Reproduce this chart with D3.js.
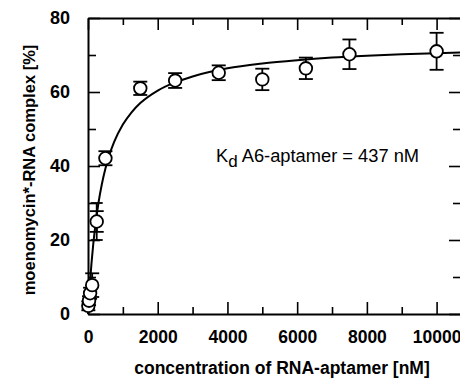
<!DOCTYPE html>
<html>
<head>
<meta charset="utf-8">
<script src="https://cdn.jsdelivr.net/npm/d3@7"></script>
<style>
  body { margin: 0; background: #fff; }
  text { font-family: "Liberation Sans", Arial, sans-serif; fill: #000; }
</style>
</head>
<body>
<div id="chart"></div>
<script>
// measured points (nM, %)
var conc   = [10, 30, 60, 120, 250, 500, 1500, 2500, 3750, 5000, 6250, 7500, 10000];
var bound  = [2.2, 3.6, 5.6, 7.8, 25, 42.1, 61, 63.1, 65.2, 63.4, 66.4, 70.2, 71];
var errors = [1.2, 1.2, 1.5, 3.2, 2.8, 1.9, 1.8, 2, 2, 2.9, 2.9, 4, 5];
// second (wider) error bars visible on some points
var errWide = [null, null, null, null, 5, null, null, null, null, null, null, null, null];

// fitted binding curve
var fitX = [0, 50, 100, 150, 200, 300, 400, 500, 600, 750, 1000, 1250, 1500, 2000, 2500, 3000, 4000, 5000, 6000, 7000, 8000, 9000, 10000, 10700];
var fitY = [0, 7.6, 13.7, 18.8, 23.1, 30, 35.2, 39.3, 42.6, 46.5, 51.2, 54.5, 57, 60.4, 62.6, 64.2, 66.4, 67.7, 68.6, 69.3, 69.8, 70.2, 70.5, 70.7];

var xTicks = [0, 2000, 4000, 6000, 8000, 10000];
var xMinor = [1000, 3000, 5000, 7000, 9000];
var yTicks = [0, 20, 40, 60, 80];
var yMinor = [10, 30, 50, 70];

var width = 460, height = 381;
var plotLeft = 88, plotTop = 18, plotRight = 461, plotBottom = 314;

var svg = d3.select('#chart').append('svg').attr('width', width).attr('height', height);

var x = d3.scaleLinear().domain([0, 10700]).range([plotLeft, plotRight]);
var y = d3.scaleLinear().domain([0, 80]).range([plotBottom, plotTop]);

function styleAxis(g) {
    g.select('.domain').attr('stroke-width', 2);
    g.selectAll('.tick line').attr('stroke-width', 1.6);
    g.selectAll('text').attr('font-size', 18).attr('font-weight', 'bold');
}
function styleMinor(g) {
    g.select('.domain').remove();
    g.selectAll('line').attr('stroke-width', 1.6);
}

// bottom axis, ticks inward
svg.append('g').attr('transform', 'translate(0,' + plotBottom + ')')
    .call(d3.axisBottom(x).tickValues(xTicks).tickSizeInner(-12).tickSizeOuter(0).tickPadding(17).tickFormat(d3.format('d')))
    .call(styleAxis)
    .call(function (g) { g.selectAll('text').attr('font-size', 17.5); });
svg.append('g').attr('transform', 'translate(0,' + plotBottom + ')')
    .call(d3.axisBottom(x).tickValues(xMinor).tickSize(-7).tickFormat(''))
    .call(styleMinor);

// top axis
svg.append('g').attr('transform', 'translate(0,' + plotTop + ')')
    .call(d3.axisTop(x).tickValues(xTicks).tickSizeInner(-12).tickSizeOuter(0).tickFormat(''))
    .call(styleAxis);
svg.append('g').attr('transform', 'translate(0,' + plotTop + ')')
    .call(d3.axisTop(x).tickValues(xMinor).tickSize(-7).tickFormat(''))
    .call(styleMinor);

// left axis
svg.append('g').attr('transform', 'translate(' + plotLeft + ',0)')
    .call(d3.axisLeft(y).tickValues(yTicks).tickSizeInner(-12).tickSizeOuter(0).tickPadding(18))
    .call(styleAxis);
svg.append('g').attr('transform', 'translate(' + plotLeft + ',0)')
    .call(d3.axisLeft(y).tickValues(yMinor).tickSize(-8).tickFormat(''))
    .call(styleMinor);

// right axis
svg.append('g').attr('transform', 'translate(' + plotRight + ',0)')
    .call(d3.axisRight(y).tickValues(yTicks).tickSizeInner(-12).tickSizeOuter(0).tickFormat(''))
    .call(styleAxis);
svg.append('g').attr('transform', 'translate(' + plotRight + ',0)')
    .call(d3.axisRight(y).tickValues(yMinor).tickSize(-8).tickFormat(''))
    .call(styleMinor);

// fit curve
var line = d3.line()
    .x(function (d, i) { return x(fitX[i]); })
    .y(function (d) { return y(d); })
    .curve(d3.curveMonotoneX);
svg.append('path').datum(fitY)
    .attr('d', line)
    .attr('fill', 'none')
    .attr('stroke', '#000')
    .attr('stroke-width', 2);

var pts = conc.map(function (c, i) { return { x: c, y: bound[i], e: errors[i], w: errWide[i] }; });

function drawBars(sel, key, cap) {
    sel.append('line')
        .attr('x1', function (d) { return x(d.x); })
        .attr('x2', function (d) { return x(d.x); })
        .attr('y1', function (d) { return y(Math.min(80, d.y + d[key])); })
        .attr('y2', function (d) { return y(d.y - d[key]); });
    [1, -1].forEach(function (s) {
        sel.append('line')
            .attr('x1', function (d) { return x(d.x) - cap; })
            .attr('x2', function (d) { return x(d.x) + cap; })
            .attr('y1', function (d) { return y(d.y + s * d[key]); })
            .attr('y2', function (d) { return y(d.y + s * d[key]); });
    });
}

var wide = svg.append('g').attr('stroke', '#000').attr('stroke-width', 1.8)
    .selectAll('g').data(pts.filter(function (d) { return d.w != null; })).enter().append('g');
drawBars(wide, 'w', 6);

var bars = svg.append('g').attr('stroke', '#000').attr('stroke-width', 1.8)
    .selectAll('g').data(pts).enter().append('g');
drawBars(bars, 'e', 7);

svg.append('g').selectAll('circle').data(pts).enter().append('circle')
    .attr('cx', function (d) { return x(d.x); })
    .attr('cy', function (d) { return y(d.y); })
    .attr('r', 6.3)
    .attr('fill', '#fff')
    .attr('stroke', '#000')
    .attr('stroke-width', 1.8);

// annotation
var kd = svg.append('text').attr('x', 216).attr('y', 162).attr('font-size', 18.3);
kd.append('tspan').text('K');
kd.append('tspan').attr('dy', 5).attr('font-size', 17).text('d');
kd.append('tspan').attr('dy', -5).text(' A6-aptamer = 437 nM');

// axis titles
svg.append('text')
    .attr('x', 282).attr('y', 374)
    .attr('text-anchor', 'middle')
    .attr('font-size', 17.5).attr('font-weight', 'bold')
    .text('concentration of RNA-aptamer [nM]');

svg.append('text')
    .attr('transform', 'translate(35,170) rotate(-90)')
    .attr('text-anchor', 'middle')
    .attr('font-size', 16.5).attr('font-weight', 'bold')
    .text('moenomycin*-RNA complex [%]');
</script>
</body>
</html>
